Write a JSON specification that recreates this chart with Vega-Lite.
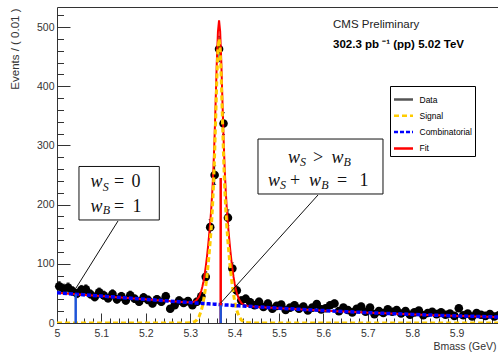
{
  "$schema": "https://vega.github.io/schema/vega-lite/v6.json",
  "width": 441,
  "height": 316,
  "autosize": {"type": "none"},
  "padding": {"left": 57, "top": 7, "right": 0, "bottom": 32},
  "background": "white",
  "config": {
    "view": {"stroke": null},
    "font": "Liberation Sans",
    "axis": {"grid": false, "domainColor": "#333", "tickColor": "#333", "labelColor": "#333", "titleColor": "#333", "labelFont": "Liberation Sans", "titleFont": "Liberation Sans", "titleFontWeight": "normal"}
  },
  "title": {
    "text": "CMS Preliminary",
    "subtitle": "302.3 pb ⁻¹ (pp) 5.02 TeV",
    "anchor": "start", "frame": "group", "orient": "top", "offset": 0,
    "dx": 276, "dy": 43,
    "font": "Liberation Sans", "fontSize": 11.5, "fontWeight": "normal", "color": "#222",
    "subtitleFont": "Liberation Sans", "subtitleFontSize": 11.5, "subtitleFontWeight": "bold", "subtitleColor": "#000", "subtitlePadding": 8.5
  },
  "datasets": {
    "pts": [
      {"m":5.005,"n":62,"err":7.9},{"m":5.015,"n":58,"err":7.6},{"m":5.025,"n":60,"err":7.7},{"m":5.035,"n":54,"err":7.3},{"m":5.045,"n":50,"err":7.1},
      {"m":5.055,"n":56,"err":7.5},{"m":5.065,"n":57,"err":7.5},{"m":5.075,"n":49,"err":7.0},{"m":5.085,"n":44,"err":6.6},{"m":5.095,"n":52,"err":7.2},
      {"m":5.105,"n":47,"err":6.9},{"m":5.115,"n":42,"err":6.5},{"m":5.125,"n":49,"err":7.0},{"m":5.135,"n":40,"err":6.3},{"m":5.145,"n":45,"err":6.7},
      {"m":5.155,"n":38,"err":6.2},{"m":5.165,"n":47,"err":6.9},{"m":5.175,"n":41,"err":6.4},{"m":5.185,"n":36,"err":6.0},{"m":5.195,"n":43,"err":6.6},
      {"m":5.205,"n":39,"err":6.2},{"m":5.215,"n":33,"err":5.7},{"m":5.225,"n":40,"err":6.3},{"m":5.235,"n":36,"err":6.0},{"m":5.245,"n":45,"err":6.7},
      {"m":5.255,"n":24,"err":4.9},{"m":5.265,"n":30,"err":5.5},{"m":5.275,"n":38,"err":6.2},{"m":5.285,"n":34,"err":5.8},{"m":5.295,"n":37,"err":6.1},
      {"m":5.305,"n":30,"err":5.5},{"m":5.315,"n":36,"err":6.0},{"m":5.325,"n":45,"err":6.7},{"m":5.335,"n":78,"err":8.8},{"m":5.345,"n":162,"err":12.7},
      {"m":5.355,"n":250,"err":15.8},{"m":5.365,"n":463,"err":21.5},{"m":5.375,"n":337,"err":18.4},{"m":5.385,"n":178,"err":13.3},{"m":5.395,"n":92,"err":9.6},
      {"m":5.405,"n":55,"err":7.4},{"m":5.415,"n":38,"err":6.2},{"m":5.425,"n":41,"err":6.4},{"m":5.435,"n":35,"err":5.9},{"m":5.445,"n":30,"err":5.5},
      {"m":5.455,"n":36,"err":6.0},{"m":5.465,"n":27,"err":5.2},{"m":5.475,"n":33,"err":5.7},{"m":5.485,"n":24,"err":4.9},{"m":5.495,"n":29,"err":5.4},
      {"m":5.505,"n":31,"err":5.6},{"m":5.515,"n":22,"err":4.7},{"m":5.525,"n":26,"err":5.1},{"m":5.535,"n":30,"err":5.5},{"m":5.545,"n":24,"err":4.9},
      {"m":5.555,"n":28,"err":5.3},{"m":5.565,"n":21,"err":4.6},{"m":5.575,"n":26,"err":5.1},{"m":5.585,"n":32,"err":5.7},{"m":5.595,"n":23,"err":4.8},
      {"m":5.605,"n":25,"err":5.0},{"m":5.615,"n":30,"err":5.5},{"m":5.625,"n":33,"err":5.7},{"m":5.635,"n":20,"err":4.5},{"m":5.645,"n":26,"err":5.1},
      {"m":5.655,"n":22,"err":4.7},{"m":5.665,"n":18,"err":4.2},{"m":5.675,"n":24,"err":4.9},{"m":5.685,"n":28,"err":5.3},{"m":5.695,"n":19,"err":4.4},
      {"m":5.705,"n":26,"err":5.1},{"m":5.715,"n":15,"err":3.9},{"m":5.725,"n":20,"err":4.5},{"m":5.735,"n":17,"err":4.1},{"m":5.745,"n":23,"err":4.8},
      {"m":5.755,"n":19,"err":4.4},{"m":5.765,"n":22,"err":4.7},{"m":5.775,"n":16,"err":4.0},{"m":5.785,"n":20,"err":4.5},{"m":5.795,"n":14,"err":3.7},
      {"m":5.805,"n":18,"err":4.2},{"m":5.815,"n":21,"err":4.6},{"m":5.825,"n":13,"err":3.6},{"m":5.835,"n":17,"err":4.1},{"m":5.845,"n":19,"err":4.4},
      {"m":5.855,"n":15,"err":3.9},{"m":5.865,"n":18,"err":4.2},{"m":5.875,"n":14,"err":3.7},{"m":5.885,"n":16,"err":4.0},{"m":5.895,"n":12,"err":3.5},
      {"m":5.905,"n":25,"err":5.0},{"m":5.915,"n":13,"err":3.6},{"m":5.925,"n":16,"err":4.0},{"m":5.935,"n":11,"err":3.3},{"m":5.945,"n":17,"err":4.1},
      {"m":5.955,"n":14,"err":3.7},{"m":5.965,"n":12,"err":3.5},{"m":5.975,"n":15,"err":3.9},{"m":5.985,"n":11,"err":3.3},{"m":5.995,"n":13,"err":3.6}
    ],
    "curve": [
      {"m":5.0,"bkg":51,"sig":0,"fit":51},{"m":5.05,"bkg":48.2,"sig":0,"fit":48.2},{"m":5.1,"bkg":45.5,"sig":0,"fit":45.5},
      {"m":5.15,"bkg":42.7,"sig":0,"fit":42.7},{"m":5.2,"bkg":40,"sig":0,"fit":40},{"m":5.25,"bkg":37.2,"sig":0,"fit":37.2},
      {"m":5.28,"bkg":35.6,"sig":0,"fit":35.6},{"m":5.3,"bkg":34.5,"sig":0.4,"fit":34.9},{"m":5.305,"bkg":34.25,"sig":1.0,"fit":35.25},
      {"m":5.31,"bkg":34.0,"sig":2.3,"fit":36.3},{"m":5.315,"bkg":33.75,"sig":5.3,"fit":39.05},{"m":5.32,"bkg":33.5,"sig":11.0,"fit":44.5},
      {"m":5.325,"bkg":33.25,"sig":21.2,"fit":54.45},{"m":5.3275,"bkg":33.1,"sig":28.5,"fit":61.6},{"m":5.33,"bkg":33.0,"sig":37.8,"fit":70.8},
      {"m":5.3325,"bkg":32.9,"sig":49.0,"fit":81.9},{"m":5.335,"bkg":32.75,"sig":62.4,"fit":95.15},{"m":5.3375,"bkg":32.6,"sig":77.8,"fit":110.4},
      {"m":5.34,"bkg":32.5,"sig":95.3,"fit":127.8},{"m":5.3425,"bkg":32.4,"sig":115.1,"fit":147.5},{"m":5.345,"bkg":32.25,"sig":136.9,"fit":169.15},
      {"m":5.3475,"bkg":32.1,"sig":161.9,"fit":194.0},{"m":5.35,"bkg":32.0,"sig":192.7,"fit":224.7},{"m":5.3525,"bkg":31.9,"sig":232.6,"fit":264.5},
      {"m":5.355,"bkg":31.75,"sig":284.8,"fit":316.55},{"m":5.3575,"bkg":31.6,"sig":347.3,"fit":378.9},{"m":5.36,"bkg":31.5,"sig":411.5,"fit":443.0},
      {"m":5.3625,"bkg":31.4,"sig":461.2,"fit":492.6},{"m":5.365,"bkg":31.25,"sig":480,"fit":511.25},{"m":5.3675,"bkg":31.1,"sig":461.2,"fit":492.3},
      {"m":5.37,"bkg":31.0,"sig":411.5,"fit":442.5},{"m":5.3725,"bkg":30.9,"sig":347.3,"fit":378.2},{"m":5.375,"bkg":30.75,"sig":284.8,"fit":315.55},
      {"m":5.3775,"bkg":30.6,"sig":232.6,"fit":263.2},{"m":5.38,"bkg":30.5,"sig":192.7,"fit":223.2},{"m":5.3825,"bkg":30.4,"sig":161.9,"fit":192.3},
      {"m":5.385,"bkg":30.25,"sig":136.9,"fit":167.15},{"m":5.3875,"bkg":30.1,"sig":115.1,"fit":145.2},{"m":5.39,"bkg":30.0,"sig":95.3,"fit":125.3},
      {"m":5.3925,"bkg":29.9,"sig":77.8,"fit":107.7},{"m":5.395,"bkg":29.75,"sig":62.4,"fit":92.15},{"m":5.3975,"bkg":29.6,"sig":49.0,"fit":78.6},
      {"m":5.4,"bkg":29.5,"sig":37.8,"fit":67.3},{"m":5.4025,"bkg":29.4,"sig":28.5,"fit":57.9},{"m":5.405,"bkg":29.25,"sig":21.2,"fit":50.45},
      {"m":5.41,"bkg":29.0,"sig":11.0,"fit":40.0},{"m":5.415,"bkg":28.8,"sig":5.3,"fit":34.1},{"m":5.42,"bkg":28.6,"sig":2.3,"fit":30.9},
      {"m":5.425,"bkg":28.4,"sig":1.0,"fit":29.4},{"m":5.43,"bkg":28.2,"sig":0.4,"fit":28.6},{"m":5.45,"bkg":27.2,"sig":0,"fit":27.2},
      {"m":5.5,"bkg":25.0,"sig":0,"fit":25.0},{"m":5.55,"bkg":23.0,"sig":0,"fit":23.0},{"m":5.6,"bkg":21.0,"sig":0,"fit":21.0},
      {"m":5.65,"bkg":19.2,"sig":0,"fit":19.2},{"m":5.7,"bkg":17.5,"sig":0,"fit":17.5},{"m":5.75,"bkg":16.0,"sig":0,"fit":16.0},
      {"m":5.8,"bkg":14.5,"sig":0,"fit":14.5},{"m":5.85,"bkg":13.2,"sig":0,"fit":13.2},{"m":5.9,"bkg":12.0,"sig":0,"fit":12.0},
      {"m":5.95,"bkg":11.0,"sig":0,"fit":11.0},{"m":6.0,"bkg":10.0,"sig":0,"fit":10.0}
    ],
    "ann": [
      {"t":"w","m":5.0755,"v":229.0,"role":"it"},{"t":"S","m":5.1029,"v":223.9,"role":"sub"},{"t":"=","m":5.1284,"v":229.0,"role":"up"},{"t":"0","m":5.1678,"v":229.0,"role":"up"},
      {"t":"w","m":5.0755,"v":188.4,"role":"it"},{"t":"B","m":5.1029,"v":183.4,"role":"sub"},{"t":"=","m":5.1284,"v":188.4,"role":"up"},{"t":"1","m":5.1700,"v":188.4,"role":"up"},
      {"t":"w","m":5.5203,"v":269.9,"role":"it"},{"t":"S","m":5.5473,"v":264.5,"role":"sub"},{"t":">","m":5.5766,"v":269.9,"role":"up"},{"t":"w","m":5.6182,"v":269.9,"role":"it"},{"t":"B","m":5.6453,"v":264.5,"role":"sub"},
      {"t":"w","m":5.4752,"v":231.5,"role":"it"},{"t":"S","m":5.5023,"v":226.4,"role":"sub"},{"t":"+","m":5.5248,"v":231.5,"role":"up"},{"t":"w","m":5.5676,"v":231.5,"role":"it"},{"t":"B","m":5.5953,"v":226.4,"role":"sub"},{"t":"=","m":5.6306,"v":231.5,"role":"up"},{"t":"1","m":5.6813,"v":231.5,"role":"up"}
    ]
  },
  "layer": [
    {
      "data": {"name": "pts"},
      "mark": {"type": "errorbar", "ticks": {"size": 3, "color": "black"}, "rule": {"color": "black", "strokeWidth": 1}},
      "encoding": {
        "x": {"field": "m", "type": "quantitative", "axis": null},
        "y": {"field": "n", "type": "quantitative", "axis": null},
        "yError": {"field": "err"}
      }
    },
    {
      "data": {"name": "pts"},
      "mark": {"type": "point", "filled": true, "color": "black", "opacity": 1, "size": 74},
      "encoding": {
        "x": {"field": "m", "type": "quantitative",
          "scale": {"domain": [5, 5.993243], "nice": false, "zero": false},
          "axis": {"orient": "bottom", "values": [5, 5.1, 5.2, 5.3, 5.4, 5.5, 5.6, 5.7, 5.8, 5.9], "format": ".1~f",
            "tickSize": -10, "labelPadding": 15, "labelFlush": false, "labelOverlap": false, "labelFontSize": 10.5,
            "title": "Bmass (GeV)", "titleX": 439, "titleY": 26, "titleAlign": "right", "titleBaseline": "alphabetic", "titleFontSize": 10.5}},
        "y": {"field": "n", "type": "quantitative",
          "scale": {"domain": [0, 534], "nice": false},
          "axis": {"orient": "left", "values": [0, 100, 200, 300, 400, 500], "format": "d",
            "tickSize": -13, "labelPadding": 16, "labelFontSize": 10.5, "labelOverlap": false,
            "title": "Events / ( 0.01 )", "titleAngle": -90, "titleX": -41.5, "titleY": 1, "titleAlign": "right", "titleBaseline": "middle", "titleFontSize": 11.5}}
      }
    },
    {
      "data": {"name": "curve"},
      "mark": {"type": "line", "strokeWidth": 2, "clip": true},
      "encoding": {
        "x": {"field": "m", "type": "quantitative", "axis": null},
        "y": {"field": "fit", "type": "quantitative", "axis": null},
        "color": {"datum": "Fit", "type": "nominal",
          "scale": {"domain": ["Data", "Signal", "Combinatorial", "Fit"], "range": ["#555555", "#ffcc00", "#0000ff", "#ff0000"]},
          "legend": {"orient": "none", "legendX": 333, "legendY": 79, "title": null, "symbolType": "stroke", "symbolSize": 361, "symbolStrokeWidth": 2.5,
            "labelFont": "Liberation Sans", "labelFontSize": 8.5, "labelColor": "#000", "labelOffset": 5, "rowPadding": 0.3, "padding": 2.5,
            "strokeColor": "#000", "fillColor": "#fff", "cornerRadius": 0, "labelLimit": 300, "labelExpr": "datum.label + '                              '"}},
        "strokeDash": {"datum": "Fit", "type": "nominal",
          "scale": {"domain": ["Data", "Signal", "Combinatorial", "Fit"], "range": [[1, 0], [5, 3], [4, 2], [1, 0]]},
          "legend": {"orient": "none", "legendX": 333, "legendY": 79, "title": null, "symbolType": "stroke", "symbolSize": 361, "symbolStrokeWidth": 2.5,
            "labelFont": "Liberation Sans", "labelFontSize": 8.5, "labelColor": "#000", "labelOffset": 5, "rowPadding": 0.3, "padding": 2.5,
            "strokeColor": "#000", "fillColor": "#fff", "cornerRadius": 0, "labelLimit": 300, "labelExpr": "datum.label + '                              '"}}
      }
    },
    {
      "data": {"name": "curve"},
      "mark": {"type": "line", "strokeWidth": 3, "clip": true},
      "encoding": {
        "x": {"field": "m", "type": "quantitative", "axis": null},
        "y": {"field": "sig", "type": "quantitative", "axis": null},
        "color": {"datum": "Signal", "type": "nominal"},
        "strokeDash": {"datum": "Signal", "type": "nominal"}
      }
    },
    {
      "data": {"name": "curve"},
      "mark": {"type": "line", "strokeWidth": 3.5, "clip": true},
      "encoding": {
        "x": {"field": "m", "type": "quantitative", "axis": null},
        "y": {"field": "bkg", "type": "quantitative", "axis": null},
        "color": {"datum": "Combinatorial", "type": "nominal"},
        "strokeDash": {"datum": "Combinatorial", "type": "nominal"}
      }
    },
    {
      "data": {"values": [{"m": 5.3687, "lo": 0, "hi": 245}]},
      "mark": {"type": "rule", "color": "#ff0000", "strokeWidth": 2.5},
      "encoding": {
        "x": {"field": "m", "type": "quantitative", "axis": null},
        "y": {"field": "lo", "type": "quantitative", "axis": null},
        "y2": {"field": "hi"}
      }
    },
    {
      "data": {"values": [{"m": 5.3687, "lo": 0, "hi": 30}, {"m": 5.0421, "lo": 0, "hi": 49}]},
      "mark": {"type": "rule", "color": "#1f55d8", "strokeWidth": 2.5},
      "encoding": {
        "x": {"field": "m", "type": "quantitative", "axis": null},
        "y": {"field": "lo", "type": "quantitative", "axis": null},
        "y2": {"field": "hi"}
      }
    },
    {
      "data": {"values": [{"m": 5.0428, "v": 59.1, "m2": 5.1374, "v2": 172.4}, {"m": 5.3687, "v": 33.8, "m2": 5.5878, "v2": 216.3}]},
      "mark": {"type": "rule", "color": "#111", "strokeWidth": 1},
      "encoding": {
        "x": {"field": "m", "type": "quantitative", "axis": null},
        "y": {"field": "v", "type": "quantitative", "axis": null},
        "x2": {"field": "m2"},
        "y2": {"field": "v2"}
      }
    },
    {
      "mark": {"type": "point", "shape": "triangle-up", "filled": true, "color": "#111", "opacity": 1, "size": 28, "angle": 33},
      "encoding": {
        "x": {"datum": 5.1337, "type": "quantitative", "axis": null},
        "y": {"datum": 168.1, "type": "quantitative", "axis": null}
      }
    },
    {
      "mark": {"type": "point", "shape": "triangle-up", "filled": true, "color": "#111", "opacity": 1, "size": 28, "angle": 42},
      "encoding": {
        "x": {"datum": 5.5833, "type": "quantitative", "axis": null},
        "y": {"datum": 212.5, "type": "quantitative", "axis": null}
      }
    },
    {
      "data": {"values": [{"m": 5.0495, "m2": 5.2304, "v": 264.5, "v2": 174.1}, {"m": 5.4527, "m2": 5.7342, "v": 310.9, "v2": 218.0}]},
      "mark": {"type": "rect", "fill": "white", "stroke": "#111", "strokeWidth": 1},
      "encoding": {
        "x": {"field": "m", "type": "quantitative", "axis": null},
        "x2": {"field": "m2"},
        "y": {"field": "v", "type": "quantitative", "axis": null},
        "y2": {"field": "v2"}
      }
    },
    {
      "data": {"name": "ann"},
      "transform": [{"filter": "datum.role === 'it'"}],
      "mark": {"type": "text", "align": "left", "baseline": "alphabetic", "font": "Liberation Serif", "fontStyle": "italic", "fontSize": 18, "color": "#111"},
      "encoding": {
        "x": {"field": "m", "type": "quantitative", "axis": null},
        "y": {"field": "v", "type": "quantitative", "axis": null},
        "text": {"field": "t"}
      }
    },
    {
      "data": {"name": "ann"},
      "transform": [{"filter": "datum.role === 'sub'"}],
      "mark": {"type": "text", "align": "left", "baseline": "alphabetic", "font": "Liberation Serif", "fontStyle": "italic", "fontSize": 12, "color": "#111"},
      "encoding": {
        "x": {"field": "m", "type": "quantitative", "axis": null},
        "y": {"field": "v", "type": "quantitative", "axis": null},
        "text": {"field": "t"}
      }
    },
    {
      "data": {"name": "ann"},
      "transform": [{"filter": "datum.role === 'up'"}],
      "mark": {"type": "text", "align": "left", "baseline": "alphabetic", "font": "Liberation Serif", "fontSize": 18, "color": "#111"},
      "encoding": {
        "x": {"field": "m", "type": "quantitative", "axis": null},
        "y": {"field": "v", "type": "quantitative", "axis": null},
        "text": {"field": "t"}
      }
    },
    {
      "data": {"values": [{"m": 5.5, "v": 100}]},
      "mark": {"type": "point", "opacity": 0},
      "encoding": {
        "x": {"field": "m", "type": "quantitative",
          "axis": {"orient": "bottom", "values": [5.02,5.04,5.06,5.08,5.12,5.14,5.16,5.18,5.22,5.24,5.26,5.28,5.32,5.34,5.36,5.38,5.42,5.44,5.46,5.48,5.52,5.54,5.56,5.58,5.62,5.64,5.66,5.68,5.72,5.74,5.76,5.78,5.82,5.84,5.86,5.88,5.92,5.94,5.96,5.98],
            "tickSize": -5, "labels": false, "domain": false, "title": null}},
        "y": {"field": "v", "type": "quantitative",
          "axis": {"orient": "left", "values": [20,40,60,80,120,140,160,180,220,240,260,280,320,340,360,380,420,440,460,480,520],
            "tickSize": -6.5, "labels": false, "domain": false, "title": null}}
      }
    },
    {
      "data": {"values": [{"m": 5.5, "v": 100}]},
      "mark": {"type": "point", "opacity": 0},
      "encoding": {
        "x": {"field": "m", "type": "quantitative",
          "axis": {"orient": "top", "labels": false, "ticks": false, "domain": true, "title": null}},
        "y": {"field": "v", "type": "quantitative", "axis": null}
      }
    }
  ],
  "resolve": {"axis": {"x": "independent", "y": "independent"}}
}
